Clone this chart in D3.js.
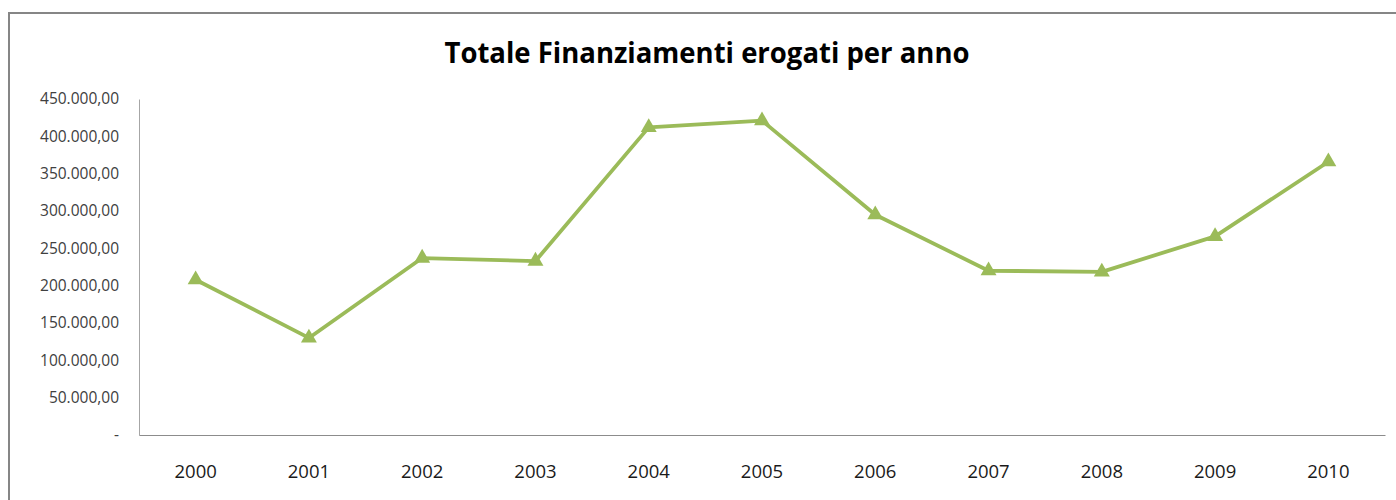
<!DOCTYPE html>
<html>
<head>
<meta charset="utf-8">
<script src="https://cdn.jsdelivr.net/npm/d3@7"></script>
<style>
    body { margin: 0; background: #fff; }
    text { font-family: "Open Sans", "Liberation Sans", sans-serif; }
</style>
</head>
<body>
<div id="chart"></div>
<script>
// data
var anni = ["2000", "2001", "2002", "2003", "2004", "2005", "2006", "2007", "2008", "2009", "2010"];
var finanziamenti = [208000, 130000, 237000, 233000, 412000, 421000, 295000, 220000, 218500, 266000, 366000];
var yTicks = [0, 50000, 100000, 150000, 200000, 250000, 300000, 350000, 400000, 450000];
var titolo = "Totale Finanziamenti erogati per anno";

var W = 1396, H = 500;
var margin = {top: 99, right: 11, bottom: 65, left: 139};
var width = W - margin.left - margin.right,
    height = H - margin.top - margin.bottom;

var it = d3.formatLocale({decimal: ",", thousands: ".", grouping: [3], currency: ["€", ""]});
var fmt = it.format(",.2f");

var svg = d3.select("#chart").append("svg")
    .attr("width", W)
    .attr("height", H);

// chart frame
svg.append("rect")
    .attr("x", 9).attr("y", 13)
    .attr("width", W).attr("height", H)
    .attr("fill", "none")
    .attr("stroke", "#868686")
    .attr("stroke-width", 2);

svg.append("text")
    .attr("x", 707)
    .attr("y", 63)
    .attr("text-anchor", "middle")
    .attr("font-size", 29)
    .attr("font-weight", "bold")
    .attr("fill", "#000")
    .attr("textLength", 525)
    .attr("lengthAdjust", "spacingAndGlyphs")
    .text(titolo);

var g = svg.append("g")
    .attr("transform", "translate(" + margin.left + "," + margin.top + ")");

var x = d3.scaleBand()
    .domain(anni)
    .range([0, width]);
var y = d3.scaleLinear()
    .domain([0, 450000])
    .range([height, 0]);

// y axis
var yAxis = g.append("g")
    .call(d3.axisLeft(y).tickValues(yTicks).tickSize(0).tickPadding(20)
        .tickFormat(function(d) { return d === 0 ? "-" : fmt(d); }));
yAxis.select(".domain").attr("stroke", "#a6a6a6");
yAxis.selectAll("text")
    .attr("font-size", 15.5)
    .attr("fill", "#404040");

// x axis
var xAxis = g.append("g")
    .attr("transform", "translate(0," + height + ")")
    .call(d3.axisBottom(x).tickSize(0).tickPadding(30));
xAxis.select(".domain").attr("stroke", "#8c8c8c");
xAxis.selectAll("text")
    .attr("font-size", 18.5)
    .attr("fill", "#1a1a1a");

var line = d3.line()
    .x(function(d, i) { return x(anni[i]) + x.bandwidth() / 2; })
    .y(function(d) { return y(d); });

g.append("path")
    .datum(finanziamenti)
    .attr("d", line)
    .attr("fill", "none")
    .attr("stroke", "#9bbb59")
    .attr("stroke-width", 3.8)
    .attr("stroke-linejoin", "round");

var tri = d3.symbol().type(d3.symbolTriangle).size(110);
g.selectAll(".marker")
    .data(finanziamenti)
    .enter().append("path")
    .attr("class", "marker")
    .attr("d", tri)
    .attr("transform", function(d, i) {
        return "translate(" + (x(anni[i]) + x.bandwidth() / 2) + "," + y(d) + ")";
    })
    .attr("fill", "#9bbb59");
</script>
</body>
</html>
